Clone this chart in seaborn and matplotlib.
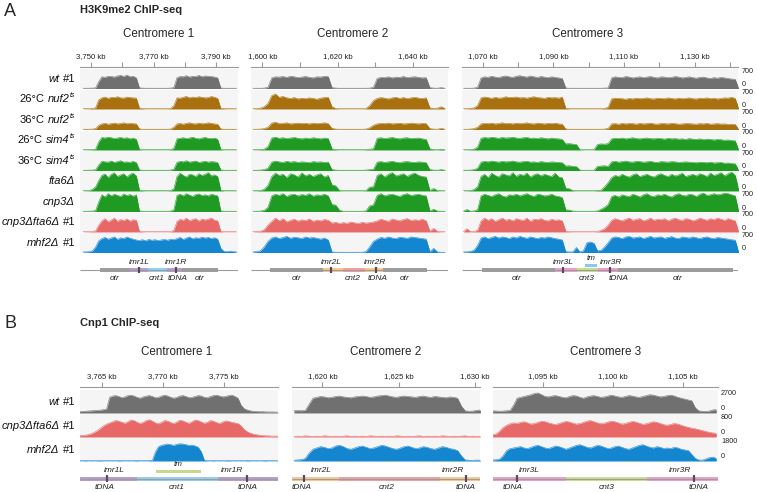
import numpy as np
import pandas as pd
import matplotlib
matplotlib.use("Agg")
import matplotlib.pyplot as plt
import seaborn as sns

# ---------------------------------------------------------------- data ----
# row labels as (text, style) pieces: i = italic, n = normal, s = italic superscript, sp = space
A_ROW_PARTS = [
    [("wt", "i"), (" ", "sp"), ("#1", "n")],
    [("26°C", "n"), (" ", "sp"), ("nuf2", "i"), ("ts", "s")],
    [("36°C", "n"), (" ", "sp"), ("nuf2", "i"), ("ts", "s")],
    [("26°C", "n"), (" ", "sp"), ("sim4", "i"), ("ts", "s")],
    [("36°C", "n"), (" ", "sp"), ("sim4", "i"), ("ts", "s")],
    [("fta6Δ", "i")],
    [("cnp3Δ", "i")],
    [("cnp3Δfta6Δ", "i"), (" ", "sp"), ("#1", "n")],
    [("mhf2Δ", "i"), (" ", "sp"), ("#1", "n")],
]
B_ROW_PARTS = [
    [("wt", "i"), (" ", "sp"), ("#1", "n")],
    [("cnp3Δfta6Δ", "i"), (" ", "sp"), ("#1", "n")],
    [("mhf2Δ", "i"), (" ", "sp"), ("#1", "n")],
]
A_MAX = [700] * 9
B_MAX = [2700, 800, 1800]
TITLES = ["Centromere 1", "Centromere 2", "Centromere 3"]

# bin starts (kb) and bin widths (kb)
A_START = [3747, 1597, 1064]
A_BINW = 1.0
B_START = [3763.0, 1618.0, 1091.25]
B_BINW = 0.25

A_TICKS = [[3750, 3760, 3770, 3780, 3790], [1600, 1610, 1620, 1630, 1640],
           [1070, 1080, 1090, 1100, 1110, 1120, 1130, 1140]]
A_TICKLABELED = [[3750, 3770, 3790], [1600, 1620, 1640], [1070, 1090, 1110, 1130]]
B_TICKS = [[3765, 3770, 3775], [1620, 1625, 1630], [1095, 1100, 1105]]

# ---- H3K9me2, centromere 1 (1-kb bins)
A_WT_C1 = [10,10,12,15,20, 250, 420,400,440,430,410,450,470,430,480,420,440,380, 20,15,10,10,10,10,10,10,10,10,15,30, 390,430,420,460,410,440,430,470,420,450,440,430,410,380, 20,10,10,10,10,10]
A_N26_C1 = [10,10,12,20,40, 330, 400,430,380,420,410,440,400,390,430,410,400,390, 30,15,10,10,10,10,10,10,10,10,20,120, 400,390,420,450,400,430,410,440,420,400,410,450,420,380, 30,15,10,10,10,10]
A_N36_C1 = [10,10,10,15,30, 150, 200,220,190,210,230,200,215,240,205,220,210,200, 20,10,10,10,10,10,10,10,10,10,15,80, 200,215,190,220,240,210,200,230,205,215,240,220,200,190, 20,10,10,10,10,10]
A_S26_C1 = [10,10,12,15,30, 300, 450,430,460,440,410,430,450,420,440,400,430,380, 20,10,10,10,10,10,10,10,10,10,15,60, 400,420,440,410,430,460,420,400,430,450,420,410,430,380, 20,10,10,10,10,10]
A_S36_C1 = [10,10,12,15,25, 200, 330,310,300,340,290,320,350,300,310,290,330,280, 20,10,10,10,10,10,10,10,10,10,15,50, 290,330,310,350,300,320,340,290,310,330,300,320,310,280, 20,10,10,10,10,10]
A_F6_C1 = [10,10,15,60,150, 380, 560,610,480,600,650,520,580,620,500,600,640,540, 30,15,10,10,10,10,10,10,10,10,20,80, 520,640,560,500,600,580,520,620,560,600,660,540,580,520, 30,10,10,10,10,10]
A_C3_C1 = [10,10,12,15,30, 350, 600,520,640,560,620,580,540,630,570,610,550,600, 20,10,10,10,10,10,10,10,10,10,15,60, 580,620,560,640,590,540,610,630,570,600,560,620,590,560, 20,10,10,10,10,10]
A_CF_C1 = [10,10,12,20,40, 250, 400,480,360,430,500,380,450,410,470,390,440,420, 25,15,10,10,10,10,10,10,10,10,15,60, 380,460,420,500,400,450,480,390,470,430,460,500,420,400, 25,10,10,10,10,10]
A_MH_C1 = [20,20,30,60,200, 420, 500,540,480,520,560,470,530,500,560,510,480,450, 430,460,420,470,440,460,430,450,470,440,480,460, 500,540,470,520,560,490,530,510,550,520,540,500,530,480, 150,40,30,50,30,20]

# ---- H3K9me2, centromere 2 (1-kb bins)
A_WT_C2 = [10,10,10,15,40, 380,420,410,430,400,440,420,390,410,430,400,380,420,410,440,430, 30,15,10,10,10,10,10,10,10,10,15,40, 360,400,390,420,380,410,400,430,390,410,420,400,380,390, 30,15,10,30,10]
A_N26_C2 = [10,15,30,80,200, 480,540,420,450,400,380,410,360,390,370,400,380,350,390,410,420, 80,20,10,10,10,10,10,10,10,15,120,300, 380,410,390,360,400,420,380,410,370,400,420,390,380,400, 40,20,30,80,20]
A_N36_C2 = [10,10,15,30,80, 230,260,210,220,240,200,215,230,210,220,200,230,210,220,240,210, 40,15,10,10,10,10,10,10,10,15,60,150, 200,220,210,230,200,215,225,200,210,230,215,200,220,210, 30,15,10,40,10]
A_S26_C2 = [10,10,15,30,120, 430,460,420,440,410,430,450,420,400,430,410,440,420,400,430,410, 40,15,10,10,10,10,10,10,10,15,30,40, 420,440,410,430,450,420,400,430,440,410,420,430,400,380, 40,15,10,30,10]
A_S36_C2 = [10,10,15,30,80, 300,340,310,290,330,300,320,290,310,300,280,320,300,310,290,300, 30,15,10,10,10,10,10,10,10,15,30,40, 300,320,290,310,330,300,280,310,320,300,290,310,300,280, 30,15,10,30,10]
A_F6_C2 = [10,10,20,60,200, 520,640,560,600,480,620,580,500,650,540,600,520,580,620,500,560, 220,180,15,10,10,10,10,10,10,15,140,150, 560,620,500,600,660,540,580,620,520,600,640,560,520,500, 20,90,15,10,10]
A_C3_C2 = [10,10,15,40,150, 560,620,580,640,540,600,620,560,610,580,640,550,600,580,620,560, 250,230,40,10,10,10,10,10,10,20,200,240, 580,640,560,600,620,580,540,610,640,570,600,620,580,560, 20,80,15,10,10]
A_CF_C2 = [10,15,30,80,250, 380,500,400,480,360,420,460,390,440,410,470,380,430,400,450,420, 320,350,300,340,310,360,330,300,350,320,340,360, 400,460,420,380,470,430,400,450,480,410,440,420,460,400, 30,130,20,10,10]
A_MH_C2 = [20,30,60,200,400, 520,560,500,540,580,510,550,530,500,560,520,540,510,480,520,450, 20,10,10,10,10,10,10,10,10,30,200,400, 480,540,510,560,520,500,550,530,510,560,540,520,500,480, 30,150,20,10,10]

# ---- H3K9me2, centromere 3 (1-kb bins)
A_WT_C3 = ([10,10,10,15,40]
           + [380,420,400,440,410,390,430,450,420,400,440,460,430,410,450,420,400,430,410,390,420,400,380,360]
           + [20,10,10,10,10,10,10,10,10,10,10,15,20]
           + [380,420,400,390,430,410,380,400,420,390,410,430,400,380,420,410,390,400,430,410,380,400,420,390,370,400,410,380,360,390,370,400,380,360,340,330]
           + [10])
A_N26_C3 = ([10,10,20,40,120]
            + [400,430,410,380,420,390,400,440,410,420,430,400,410,390,420,440,410,400,380,420,400,410,390,430]
            + [30,10,10,10,10,10,10,10,10,10,10,20,60]
            + [360,390,380,370,350,380,360,390,370,380,400,370,360,390,380,370,400,380,360,390,370,380,400,370,360,390,380,400,370,390,360,380,400,390,420,380]
            + [20])
A_N36_C3 = ([10,10,15,30,80]
            + [200,220,210,230,200,215,240,210,220,200,230,210,220,240,210,200,230,215,200,220,210,230,200,190]
            + [20,10,10,10,10,10,10,10,10,10,10,15,40]
            + [200,210,190,220,200,215,210,190,220,200,210,230,200,190,215,210,200,220,210,190,200,215,210,200,190,210,200,220,190,200,210,195,200,185,190,180]
            + [15])
A_S26_C3 = ([10,10,15,30,100]
            + [420,450,430,460,440,420,450,430,440,460,430,420,440,450,420,430,410,440,420,400,430,410,400,380]
            + [220,230,210,200,15,10,10,10,10,200,220,210,230]
            + [400,420,410,430,400,420,440,410,400,420,430,410,400,420,410,390,420,400,410,390,400,380,410,390,380,400,370,390,380,360,380,370,350,360,340,330]
            + [15])
A_S36_C3 = ([10,10,15,30,80]
            + [300,330,310,340,320,300,330,310,320,340,310,300,320,330,300,310,290,320,300,290,310,300,290,280]
            + [160,170,150,140,15,10,10,10,10,150,160,170,150]
            + [310,330,300,320,340,310,300,330,320,300,310,330,300,290,320,310,300,320,310,290,300,310,300,290,280,300,290,280,300,270,280,290,260,270,250,240]
            + [15])
A_F6_C3 = ([10,10,20,50,150]
           + [520,600,480,640,560,500,620,580,540,660,520,600,560,640,500,580,620,540,600,560,520,640,500,480]
           + [100,80,15,10,10,10,10,10,10,20,30,150,300]
           + [480,560,520,600,540,500,580,620,520,560,600,540,500,580,620,560,520,600,540,580,640,520,560,600,540,620,580,520,640,560,600,660,540,620,680,560]
           + [60])
A_C3_C3 = ([10,70,10,20,60]
           + [560,620,580,540,600,640,560,520,600,580,620,560,600,640,580,540,620,600,560,580,620,560,540,500]
           + [60,50,15,10,10,10,10,10,10,20,80,150,250]
           + [540,580,520,600,560,540,620,580,520,600,640,560,540,600,580,620,560,520,600,640,580,560,620,600,540,620,660,580,600,640,600,620,660,640,600,560]
           + [20])
A_CF_C3 = ([10,120,10,20,60]
           + [400,500,420,480,380,440,500,420,460,400,480,440,420,500,380,460,440,480,420,400,460,420,440,400]
           + [30,15,10,10,10,10,10,10,10,20,60,120,250]
           + [420,480,440,400,460,500,420,460,480,400,440,500,420,460,440,480,400,460,500,440,420,480,460,400,440,500,460,420,480,440,500,460,420,480,440,400]
           + [20])
A_MH_C3 = ([20,20,40,80,250]
           + [520,560,500,540,580,520,560,540,500,560,520,580,540,510,560,530,500,540,520,560,530,500,480,450]
           + [30,20,20,180,20,60,350,380,330,60,80,200,350]
           + [520,560,540,500,560,580,520,540,560,500,540,580,520,550,560,510,540,570,520,500,560,540,520,560,530,500,540,560,520,500,540,520,500,480,460,440]
           + [30])

# ---- Cnp1 (0.25-kb bins)
B_WT_C1 = ([150,180,200,230,250,280,300,330,380,450]
           + [1800,1950,2000,1900,1750,1850,2000,2050,1950,1800,1700,1850,1950,2000,1900,1750,1800,1950,2050,1950,
              1800,1700,1800,1950,2000,1900,1750,1800,1900,2000,1950,1800,1750,1900,2000,2050,1950,1850,1900,2000,2050,1900,1700]
           + [900,500,350,250,200,180,150,150,130,120,120,110,100])
B_CF_C1 = ([40,50,60,80,110,160,220,300,380,440]
           + [480,520,560,540,500,470,520,580,560,500,460,500,560,590,540,480,450,500,560,540,
              490,460,510,570,550,500,470,520,580,560,510,470,500,560,540,490,460,510,550,530,500,480,460]
           + [380,260,180,130,100,80,60,50,40,40,30,30,30])
B_MH_C1 = ([30,20,40,20,30,20,30,40,20,30,20,30,20,40,30,20,30,20,30,40,20,30,20,40,60]
           + [700,1100,1200,1250,1300,1250,1200,1280,1320,1300,1250,1200,1220,1150,1050,700]
           + [60,30,20,40,20,30,20,30,40,20,30,20,30,20,40,30,20,30,20,30,40,20,30,20,30])
B_WT_C2 = ([250,280,260,300,1000]
           + [1700,1800,1900,1850,1750,1800,1900,1950,1850,1800,1750,1850,1900,1950,1900,1800,1850,1950,2000,2050,
              1950,1850,1800,1900,1950,1900,1850,1800,1900,1950,1850,1800,1900,1850,1800,1750,1850,1800,1700]
           + [800,250,200,220,300,350])
B_CF_C2 = [20,30,20,40,30,20,30,20,40,30,20,30,20,30,40,20,30,20,30,20,40,30,20,30,20,
           30,20,40,30,20,30,20,30,40,20,30,20,30,20,40,30,20,30,20,30,40,20,30,20,30]
B_MH_C2 = ([60,80,100,200,600]
           + [900,1000,1100,1050,950,1000,1150,1200,1100,950,900,1000,1100,1150,1050,950,1000,1100,1200,1150,
              1050,950,900,1000,1100,1150,1050,950,1000,1100,1050,950,900,1000,1100,1050,950,900,800]
           + [400,80,60,50,70,60])
B_WT_C3 = ([250,230,200,220,260,300,900]
           + [1700,1800,1900,2000,2100,2250,2300,2100,1900,1850,1950,2000,1900,1800,1750,1900,2000,1950,1800,1700,
              1850,1950,2000,1900,1800,1850,1950,2050,1950,1850,1800,1900,2000,1950,1850,1800,1900,2000,2100,2050,
              1950,1850,1900,2000,2050,1950,1800,1700,1600,1500,1400]
           + [600,250,200,180,220,350,380])
B_CF_C3 = [80,100,200,320,400,450,480,460,500,520,480,440,460,500,540,520,480,450,420,460,
           500,530,510,470,440,460,500,540,560,520,480,450,470,510,540,520,480,440,460,500,
           530,510,470,430,450,490,520,500,460,420,400,430,460,440,400,360,330,300,280,250,
           220,190,160,140,120]
B_MH_C3 = [80,90,150,400,800,950,1000,1050,1100,1000,950,1050,1150,1200,1100,1000,950,1050,1150,1100,
           1000,900,1000,1100,1200,1250,1150,1050,1000,1100,1200,1150,1050,950,1000,1100,1150,1050,950,900,
           1000,1100,1200,1250,1150,1050,1000,1100,1050,950,1000,950,1050,1000,900,850,800,500,200,80,
           60,150,250,300,200]

A_TRACKS = [[A_WT_C1, A_WT_C2, A_WT_C3], [A_N26_C1, A_N26_C2, A_N26_C3], [A_N36_C1, A_N36_C2, A_N36_C3],
            [A_S26_C1, A_S26_C2, A_S26_C3], [A_S36_C1, A_S36_C2, A_S36_C3], [A_F6_C1, A_F6_C2, A_F6_C3],
            [A_C3_C1, A_C3_C2, A_C3_C3], [A_CF_C1, A_CF_C2, A_CF_C3], [A_MH_C1, A_MH_C2, A_MH_C3]]
B_TRACKS = [[B_WT_C1, B_WT_C2, B_WT_C3], [B_CF_C1, B_CF_C2, B_CF_C3], [B_MH_C1, B_MH_C2, B_MH_C3]]

# ---- annotation features (kb)
A_SEGS = [[(3752.9, 3762.5, "otr"), (3762.5, 3768.2, "imr1"), (3768.2, 3774.3, "cnt1"), (3774.3, 3779.1, "imr1"), (3779.1, 3790.6, "otr")],
          [(1602.0, 1616.1, "otr"), (1616.1, 1621.4, "imr2"), (1621.4, 1627.2, "cnt2"), (1627.2, 1632.0, "imr2"), (1632.0, 1643.7, "otr")],
          [(1069.8, 1090.5, "otr"), (1090.5, 1096.7, "imr3"), (1096.7, 1102.7, "cnt3"), (1102.7, 1108.3, "imr3"), (1108.3, 1140.8, "otr")]]
A_TDNA = [[3765.3, 3777.2], [1618.2, 1630.2], [1092.7, 1106.1]]
A_TM = [None, None, (1099.0, 1102.4)]
A_ABOVE = [[(3765.3, "imr1L"), (3777.2, "imr1R")], [(1618.2, "imr2L"), (1630.0, "imr2R")],
           [(1092.7, "imr3L"), (1106.3, "imr3R")]]
A_BELOW = [[(3757.7, "otr"), (3771.1, "cnt1"), (3777.8, "tDNA"), (3784.8, "otr")],
           [(1609.2, "otr"), (1624.1, "cnt2"), (1630.7, "tDNA"), (1637.9, "otr")],
           [(1079.7, "otr"), (1099.5, "cnt3"), (1108.4, "tDNA"), (1125.1, "otr")]]
B_SEGS = [[(3763.0, 3767.9, "imr1"), (3767.9, 3774.5, "cnt1"), (3774.5, 3779.5, "imr1")],
          [(1618.0, 1621.1, "imr2"), (1621.1, 1627.7, "cnt2"), (1627.7, 1630.4, "imr2")],
          [(1091.3, 1096.6, "imr3"), (1096.6, 1102.4, "cnt3"), (1102.4, 1107.5, "imr3")]]
B_TDNA = [[3765.4, 3776.9], [1618.8, 1629.4], [1093.1, 1105.8]]
B_TM = [(3769.4, 3773.1), None, None]
B_ABOVE = [[(3766.0, "imr1L"), (3775.6, "imr1R")], [(1619.9, "imr2L"), (1628.6, "imr2R")],
           [(1094.0, "imr3L"), (1104.75, "imr3R")]]
B_BELOW = [[(3765.2, "tDNA"), (3771.1, "cnt1"), (3776.9, "tDNA")],
           [(1618.6, "tDNA"), (1624.2, "cnt2"), (1629.4, "tDNA")],
           [(1092.8, "tDNA"), (1099.5, "cnt3"), (1106.1, "tDNA")]]

# ---------------------------------------------------------------- style ----
sns.set_theme(style="white")
plt.rcParams['font.family'] = ['Liberation Sans', 'DejaVu Sans']

A_COLORS = ['#707070', '#a8700e', '#a8700e', '#1f9a22', '#1f9a22', '#1f9a22', '#1f9a22', '#e86868', '#1486d0']
B_COLORS = ['#707070', '#e86868', '#1486d0']
FEAT_COLORS = {"otr": "#9d9d9d", "imr1": "#b79ecd", "cnt1": "#91d1f1", "imr2": "#f6c98e",
               "cnt2": "#f0a0a0", "imr3": "#eca0c8", "cnt3": "#cadf8e"}
TM_COLORS = ["#86cbee", "#c4dc8a"]
MARK_COLOR = "#5a4a5c"
TRACK_BG = "#f5f5f5"

W, H = 757, 492
fig = plt.figure(figsize=(W / 100, H / 100), dpi=100)
fig.patch.set_facecolor('white')
renderer = fig.canvas.get_renderer()


def rect(x0, y0, x1, y1):
    return [x0 / W, 1 - y1 / H, (x1 - x0) / W, (y1 - y0) / H]


def fx(px):
    return px / W


def fy(py):
    return 1 - py / H


A_PX = [(80, 238), (251, 448), (462, 738)]
A_XLIM = [(3746.5, 3797.0), (1597.0, 1649.3), (1064.1, 1142.3)]
A_TITLE_X = [159, 353, 588]
B_PX = [(80, 278), (292, 480), (493, 718)]
B_XLIM = [(3763.2, 3779.4), (1618.0, 1630.35), (1091.4, 1107.5)]
B_TITLE_X = [177, 386, 606]


def rich_label_right(xpx, ypx, parts, size=8):
    """Right-aligned label made of normal / italic / superscript pieces."""
    x = xpx
    for txt, st in reversed(parts):
        if st == "sp":
            x -= size * 100 / 72 * 0.28
            continue
        if st == "s":
            t = fig.text(fx(x), fy(ypx - 3.6), txt, fontsize=size * 0.62, fontstyle='italic',
                         ha='right', va='center', color='#111111')
        else:
            t = fig.text(fx(x), fy(ypx), txt, fontsize=size,
                         fontstyle='italic' if st == "i" else 'normal',
                         ha='right', va='center', color='#111111')
        x -= t.get_window_extent(renderer=renderer).width + (0.3 if st == "i" else 0)


def draw_track(ax, start, binw, vals, color, xlim, ymax):
    centers = start + (np.arange(len(vals)) + 0.5) * binw
    df = pd.DataFrame({"pos": centers, "signal": vals})
    sns.lineplot(data=df, x="pos", y="signal", color=color, linewidth=0.4, ax=ax)
    ax.fill_between(df["pos"], 0, df["signal"], color=color, linewidth=0)
    ax.set_xlim(*xlim)
    ax.set_ylim(0, ymax)
    ax.set_facecolor(TRACK_BG)
    ax.set_xlabel('')
    ax.set_ylabel('')
    ax.set_xticks([])
    ax.set_yticks([])
    for s in ax.spines.values():
        s.set_visible(False)


def draw_ruler(x0, x1, yline, xlim, ticks, labeled):
    rax = fig.add_axes(rect(x0, yline - 1, x1, yline))
    rax.set_xlim(*xlim)
    rax.set_ylim(0, 1)
    rax.patch.set_alpha(0)
    for s in ['left', 'right', 'bottom']:
        rax.spines[s].set_visible(False)
    rax.spines['top'].set_visible(True)
    rax.spines['top'].set_color('#9a9a9a')
    rax.spines['top'].set_linewidth(0.8)
    rax.set_xticks(ticks)
    rax.set_xticklabels([f"{t:,} kb" if t in labeled else "" for t in ticks])
    rax.tick_params(axis='x', top=True, labeltop=True, bottom=False, labelbottom=False,
                    direction='out', length=3.5, width=0.8, color='#9a9a9a',
                    labelsize=5.6, pad=1.5, labelcolor='#222222')
    rax.set_yticks([])


def draw_annot(x0, x1, ytop, ybot, xlim, yline, segs, tdna, tm, ytm, above, yabove, below, ybelow, tmcol, tmlab_y):
    ax = fig.add_axes(rect(x0, ytop, x1, ybot))
    ax.set_xlim(*xlim)
    ax.set_ylim(ybot, ytop)
    ax.axis('off')
    ax.hlines(yline, xlim[0], xlim[1], color='#9d9d9d', lw=0.8)
    for (a, b, name) in segs:
        ax.barh(yline, b - a, left=a, height=4, color=FEAT_COLORS[name], linewidth=0)
    for t in tdna:
        ax.vlines(t, yline - 3.2, yline + 3.2, color=MARK_COLOR, lw=1.6)
    if tm is not None:
        ax.barh(ytm, tm[1] - tm[0], left=tm[0], height=3, color=tmcol, linewidth=0)
        ax.text((tm[0] + tm[1]) / 2, tmlab_y, "tm", ha='center', va='center', fontsize=5.8,
                fontstyle='italic', color='#222222')
    for (p, s) in above:
        ax.text(p, yabove, s, ha='center', va='center', fontsize=6, fontstyle='italic', color='#222222')
    for (p, s) in below:
        ax.text(p, ybelow, s, ha='center', va='center', fontsize=6, fontstyle='italic', color='#222222')


# ------------------------------------------------------------- panel A ----
fig.text(fx(4), fy(11), "A", fontsize=13, va='center', ha='left')
fig.text(fx(80), fy(10), "H3K9me2 ChIP-seq", fontsize=8, fontweight='bold', va='center', ha='left')

A_ROW_TOP, A_ROW_STEP, A_ROW_H = 69, 20.5, 19.5
for ci in range(3):
    x0, x1 = A_PX[ci]
    fig.text(fx(A_TITLE_X[ci]), fy(34), TITLES[ci], fontsize=8.4, ha='center', va='center')
    draw_ruler(x0, x1, 67.5, A_XLIM[ci], A_TICKS[ci], A_TICKLABELED[ci])
    for k in range(9):
        top = A_ROW_TOP + A_ROW_STEP * k
        ax = fig.add_axes(rect(x0, top, x1, top + A_ROW_H))
        draw_track(ax, A_START[ci], A_BINW, A_TRACKS[k][ci], A_COLORS[k], A_XLIM[ci], A_MAX[k])
    draw_annot(x0, x1, 252, 290, A_XLIM[ci], 270, A_SEGS[ci], A_TDNA[ci], A_TM[ci], 265,
               A_ABOVE[ci], 262.5, A_BELOW[ci], 278.5, TM_COLORS[0], 258)

for k in range(9):
    top = A_ROW_TOP + A_ROW_STEP * k
    rich_label_right(75, top + A_ROW_H / 2, A_ROW_PARTS[k])
    fig.text(fx(742), fy(top + 2.5), str(A_MAX[k]), fontsize=5.2, ha='left', va='center', color='#222222')
    fig.text(fx(742), fy(top + A_ROW_H - 3.5), "0", fontsize=5.2, ha='left', va='center', color='#222222')

# ------------------------------------------------------------- panel B ----
fig.text(fx(4), fy(323), "B", fontsize=13, va='center', ha='left')
fig.text(fx(80), fy(323), "Cnp1 ChIP-seq", fontsize=8, fontweight='bold', va='center', ha='left')

B_ROW_TOP, B_ROW_STEP, B_ROW_H = 389.5, 24, 23.5
for ci in range(3):
    x0, x1 = B_PX[ci]
    fig.text(fx(B_TITLE_X[ci]), fy(352), TITLES[ci], fontsize=8.4, ha='center', va='center')
    draw_ruler(x0, x1, 388, B_XLIM[ci], B_TICKS[ci], B_TICKS[ci])
    for k in range(3):
        top = B_ROW_TOP + B_ROW_STEP * k
        ax = fig.add_axes(rect(x0, top, x1, top + B_ROW_H))
        draw_track(ax, B_START[ci], B_BINW, B_TRACKS[k][ci], B_COLORS[k], B_XLIM[ci], B_MAX[k])
    draw_annot(x0, x1, 461, 492, B_XLIM[ci], 478.5, B_SEGS[ci], B_TDNA[ci], B_TM[ci], 471,
               B_ABOVE[ci], 470, B_BELOW[ci], 487.5, TM_COLORS[1], 465)

for k in range(3):
    top = B_ROW_TOP + B_ROW_STEP * k
    rich_label_right(75, top + B_ROW_H / 2 + 1, B_ROW_PARTS[k])
    fig.text(fx(721), fy(top + 4), str(B_MAX[k]), fontsize=5.2, ha='left', va='center', color='#222222')
    fig.text(fx(721), fy(top + B_ROW_H - 4), "0", fontsize=5.2, ha='left', va='center', color='#222222')

fig.savefig("out.png", dpi=100, facecolor='white')
